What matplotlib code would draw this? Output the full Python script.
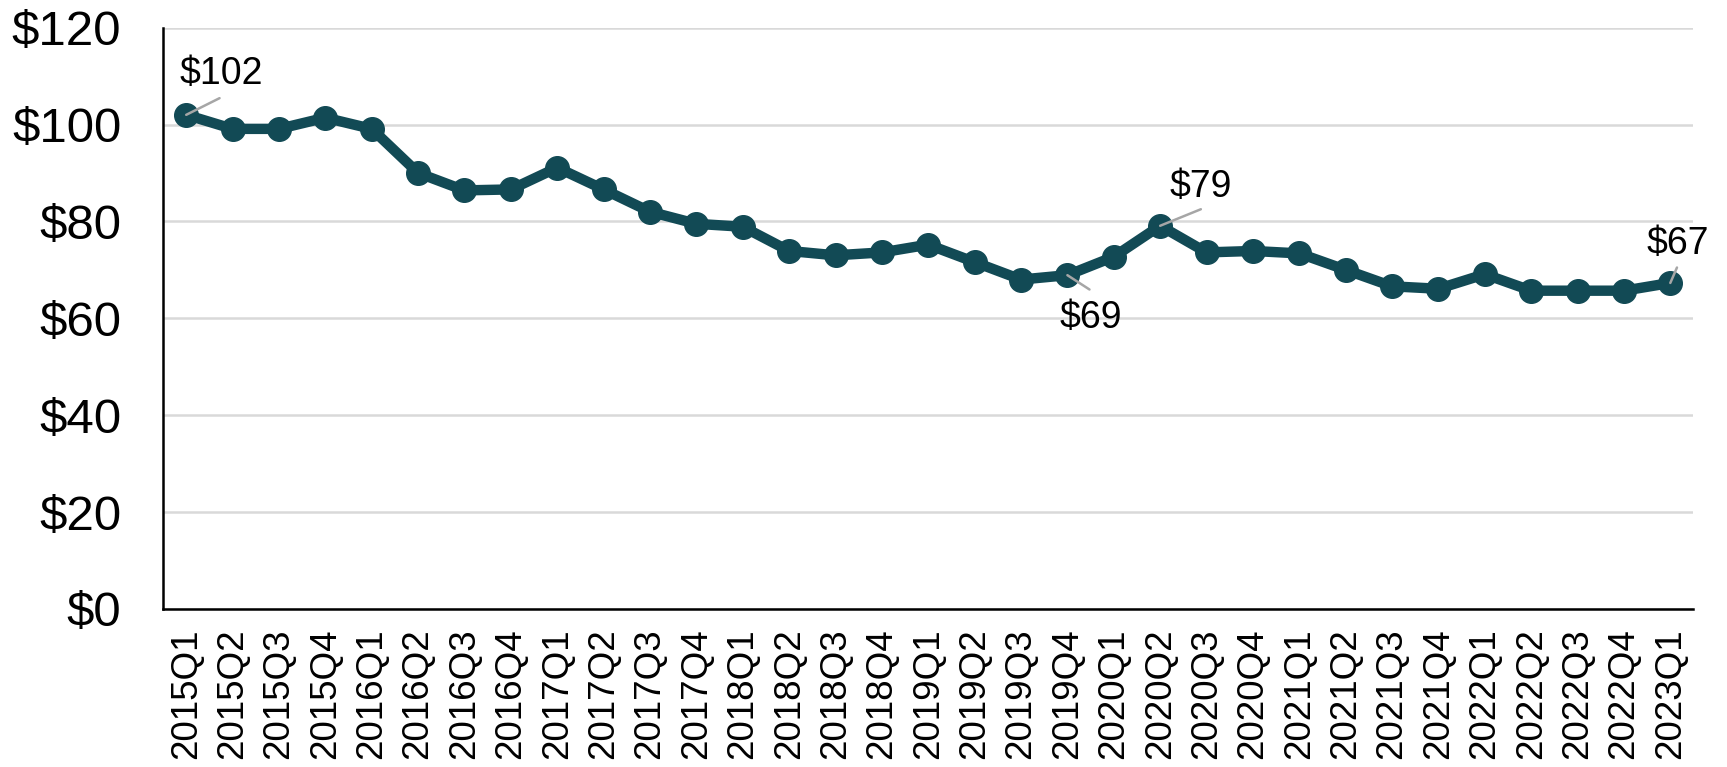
import matplotlib
matplotlib.use("Agg")
import matplotlib.pyplot as plt

plt.rcParams['font.family'] = ['Liberation Sans', 'DejaVu Sans']

quarters = ["2015Q1", "2015Q2", "2015Q3", "2015Q4",
            "2016Q1", "2016Q2", "2016Q3", "2016Q4",
            "2017Q1", "2017Q2", "2017Q3", "2017Q4",
            "2018Q1", "2018Q2", "2018Q3", "2018Q4",
            "2019Q1", "2019Q2", "2019Q3", "2019Q4",
            "2020Q1", "2020Q2", "2020Q3", "2020Q4",
            "2021Q1", "2021Q2", "2021Q3", "2021Q4",
            "2022Q1", "2022Q2", "2022Q3", "2022Q4",
            "2023Q1"]
values = [102.0, 99.1, 99.1, 101.4,
          99.1, 90.0, 86.4, 86.6,
          91.1, 86.6, 82.0, 79.5,
          78.9, 73.9, 73.0, 73.6,
          75.2, 71.6, 68.0, 68.9,
          72.7, 79.1, 73.6, 73.9,
          73.4, 70.0, 66.6, 66.1,
          69.1, 65.7, 65.7, 65.7,
          67.3]
yticks = [0, 20, 40, 60, 80, 100, 120]
# (index, label, text offset pts, leader end offset pts)
callouts = [
    (0, "$102", (25, 29.5), (24, 12)),
    (19, "$69", (16.6, -31), (15.9, -10.3)),
    (21, "$79", (29.3, 27.8), (29.3, 11.9)),
    (32, "$67", (5.5, 27.7), (4.8, 11.1)),
]

line_color = "#124A55"

fig = plt.figure(figsize=(17.27, 7.67), dpi=100)
ax = fig.add_axes([0.0944, 0.206, 0.9856 - 0.0944 - 0.005, 0.964 - 0.206])

x = list(range(len(quarters)))
ax.plot(x, values, color=line_color, linewidth=7.5, marker='o',
        markersize=17, markerfacecolor=line_color, markeredgecolor=line_color,
        zorder=3, solid_capstyle='round')

ax.set_xlim(-0.5, len(quarters) - 0.5)
ax.set_ylim(0, 120)
ax.set_yticks(yticks)
ax.set_yticklabels([f"${v}" for v in yticks], fontsize=35.5)
ax.set_xticks(x)
ax.set_xticklabels(quarters, rotation=90, fontsize=26.5)
ax.tick_params(axis='both', length=0)
ax.tick_params(axis='y', pad=30)
ax.tick_params(axis='x', pad=14)

ax.grid(axis='y', color='#D9D9D9', linewidth=1.8, zorder=0)
ax.set_axisbelow(True)
for s in ['top', 'right']:
    ax.spines[s].set_visible(False)
for s in ['left', 'bottom']:
    ax.spines[s].set_linewidth(1.8)
    ax.spines[s].set_color('black')

for idx, lab, toff, loff in callouts:
    ax.annotate('', xy=(idx, values[idx]), xytext=loff, textcoords='offset points',
                arrowprops=dict(arrowstyle='-', color='#A6A6A6', lw=1.8,
                                shrinkA=0, shrinkB=0), zorder=4)
    ax.annotate(lab, xy=(idx, values[idx]), xytext=toff, textcoords='offset points',
                ha='center', va='center', fontsize=27, color='black', zorder=5)

fig.savefig("out.png", dpi=100)
